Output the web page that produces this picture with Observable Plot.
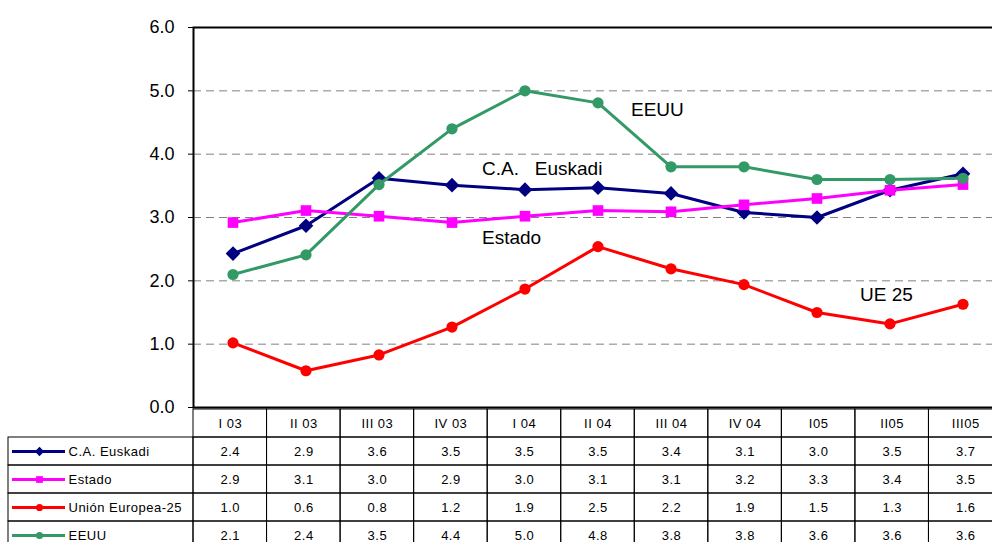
<!DOCTYPE html>
<html>
<head>
<meta charset="utf-8">
<script src="https://cdn.jsdelivr.net/npm/d3@7"></script>
<script src="https://cdn.jsdelivr.net/npm/@observablehq/plot@0.6"></script>
<style>
  html, body { margin: 0; padding: 0; background: #ffffff; color: #000; }
  #wrap { position: relative; width: 992px; height: 542px; overflow: hidden; background: #fff; }
  #wrap svg { position: absolute; left: 0; top: 0; overflow: hidden; }
  svg text { white-space: pre; }
</style>
</head>
<body>
<div id="wrap"></div>
<script>
// ---- data ----
const categories = ["I 03", "II 03", "III 03", "IV 03", "I 04", "II 04", "III 04", "IV 04", "I05", "II05", "III05"];
const seriesNames = ["C.A. Euskadi", "Estado", "Unión Europea-25", "EEUU"];
const seriesColors = ["#000080", "#ff00ff", "#ff0000", "#339966"];
const seriesSymbols = ["diamond2", "square", "circle", "circle"];

const euskadi = [2.43, 2.87, 3.62, 3.51, 3.44, 3.47, 3.38, 3.08, 3.00, 3.43, 3.69];
const estado  = [2.92, 3.11, 3.02, 2.92, 3.02, 3.11, 3.09, 3.20, 3.30, 3.43, 3.52];
const ue25    = [1.02, 0.58, 0.83, 1.27, 1.87, 2.54, 2.19, 1.94, 1.50, 1.32, 1.63];
const eeuu    = [2.10, 2.41, 3.52, 4.40, 5.00, 4.81, 3.80, 3.80, 3.60, 3.60, 3.62];

// values printed in the data table
const tableEuskadi = ["2.4", "2.9", "3.6", "3.5", "3.5", "3.5", "3.4", "3.1", "3.0", "3.5", "3.7"];
const tableEstado  = ["2.9", "3.1", "3.0", "2.9", "3.0", "3.1", "3.1", "3.2", "3.3", "3.4", "3.5"];
const tableUe25    = ["1.0", "0.6", "0.8", "1.2", "1.9", "2.5", "2.2", "1.9", "1.5", "1.3", "1.6"];
const tableEeuu    = ["2.1", "2.4", "3.5", "4.4", "5.0", "4.8", "3.8", "3.8", "3.6", "3.6", "3.6"];

const yTicks = [0, 1, 2, 3, 4, 5, 6];
const gridValues = [1, 2, 3, 4, 5];
const annotationLabels = ["EEUU", "C.A.   Euskadi", "Estado", "UE 25"];

// ---- build tables ----
const seriesValues = [euskadi, estado, ue25, eeuu];
const tableValues = [tableEuskadi, tableEstado, tableUe25, tableEeuu];
const points = seriesNames.flatMap((s, si) =>
  categories.map((c, i) => ({series: s, cat: c, value: seriesValues[si][i]})));
const tableRows = seriesNames.flatMap((s, si) =>
  categories.map((c, i) => ({series: s, cat: c, idx: i, label: tableValues[si][i]})));

const FONT = "'Liberation Sans', Arial, Helvetica, sans-serif";
const W = 992, H = 542;
const plotLeft = 193, plotRight = 1002;   // column grid spans past the right edge
const plotTop = 27, plotBottom = 407;

// ---- chart ----
const lineMarks = [];
seriesNames.forEach((s, si) => {
  const data = points.filter(d => d.series === s);
  lineMarks.push(Plot.line(data, {x: "cat", y: "value", stroke: seriesColors[si], strokeWidth: 3, strokeLinejoin: "round"}));
  lineMarks.push(Plot.dot(data, {
    x: "cat", y: "value", symbol: () => seriesSymbols[si], fill: seriesColors[si], stroke: "none",
    r: si === 0 ? 6.6 : si === 1 ? 6.0 : 5.6
  }));
});

const chart = Plot.plot({
  width: W, height: H,
  marginLeft: plotLeft, marginRight: W - plotRight, marginTop: plotTop, marginBottom: H - plotBottom,
  style: {fontFamily: FONT, fontSize: "18px", background: "transparent", color: "#000"},
  x: {type: "band", domain: categories, padding: 0, axis: null},
  y: {domain: [0, 6], ticks: yTicks, tickFormat: d => d.toFixed(1), tickSize: 5, tickPadding: 14, label: null},
  symbol: {type: "ordinal"},
  marks: [
    Plot.ruleY(gridValues, {stroke: "#808080", strokeWidth: 1, strokeDasharray: "8,5"}),
    ...lineMarks,
    Plot.text([annotationLabels[0]], {x: () => "II 04", y: () => 4.70, text: d => d, textAnchor: "start", dx: 33, fontSize: 19}),
    Plot.text([annotationLabels[1]], {x: () => "IV 03", y: () => 3.77, text: d => d, textAnchor: "start", dx: 30, fontSize: 19}),
    Plot.text([annotationLabels[2]], {x: () => "IV 03", y: () => 2.68, text: d => d, textAnchor: "start", dx: 30, fontSize: 19}),
    Plot.text([annotationLabels[3]], {x: () => "I05", y: () => 1.77, text: d => d, textAnchor: "start", dx: 43, fontSize: 19}),
    Plot.frame({stroke: "#000", strokeWidth: 2})
  ]
});

// ---- data table ----
const colW = (plotRight - plotLeft) / categories.length;
const px = p => (p - plotLeft) / colW;      // pixel -> column units
const tableLeft = 8;
const rowKeys = ["header", ...seriesNames];

const legendMarks = [];
seriesNames.forEach((s, si) => {
  legendMarks.push(Plot.ruleY([s], {y: d => d, x1: () => px(12), x2: () => px(65), stroke: seriesColors[si], strokeWidth: 3}));
  legendMarks.push(Plot.dot([s], {
    y: d => d, x: () => px(39), symbol: () => seriesSymbols[si], fill: seriesColors[si], stroke: "none",
    r: si === 0 ? 4.2 : si === 1 ? 3.8 : 3.6
  }));
});

const table = Plot.plot({
  width: W, height: H,
  marginLeft: tableLeft, marginRight: W - plotRight, marginTop: plotBottom, marginBottom: -9,
  style: {fontFamily: FONT, fontSize: "13px", background: "transparent", color: "#000", letterSpacing: "0.5px"},
  x: {type: "linear", domain: [px(tableLeft), categories.length], axis: null},
  y: {type: "band", domain: rowKeys, padding: 0, axis: null},
  symbol: {type: "ordinal"},
  marks: [
    Plot.barX(categories, {x1: (d, i) => i, x2: (d, i) => i + 1, y: () => "header", fill: "none", stroke: "#000", strokeWidth: 1}),
    Plot.barX(tableRows, {x1: d => d.idx, x2: d => d.idx + 1, y: "series", fill: "none", stroke: "#000", strokeWidth: 1}),
    Plot.barX(seriesNames, {x1: () => px(tableLeft), x2: () => 0, y: d => d, fill: "none", stroke: "#000", strokeWidth: 1}),
    Plot.text(categories, {x: (d, i) => i + 0.5, y: () => "header", text: d => d}),
    Plot.text(tableRows, {x: d => d.idx + 0.5, y: "series", text: "label"}),
    ...legendMarks,
    Plot.text(seriesNames, {x: () => px(68), y: d => d, text: d => d, textAnchor: "start"})
  ]
});

const wrap = document.getElementById("wrap");
wrap.appendChild(chart);
wrap.appendChild(table);
</script>
</body>
</html>
